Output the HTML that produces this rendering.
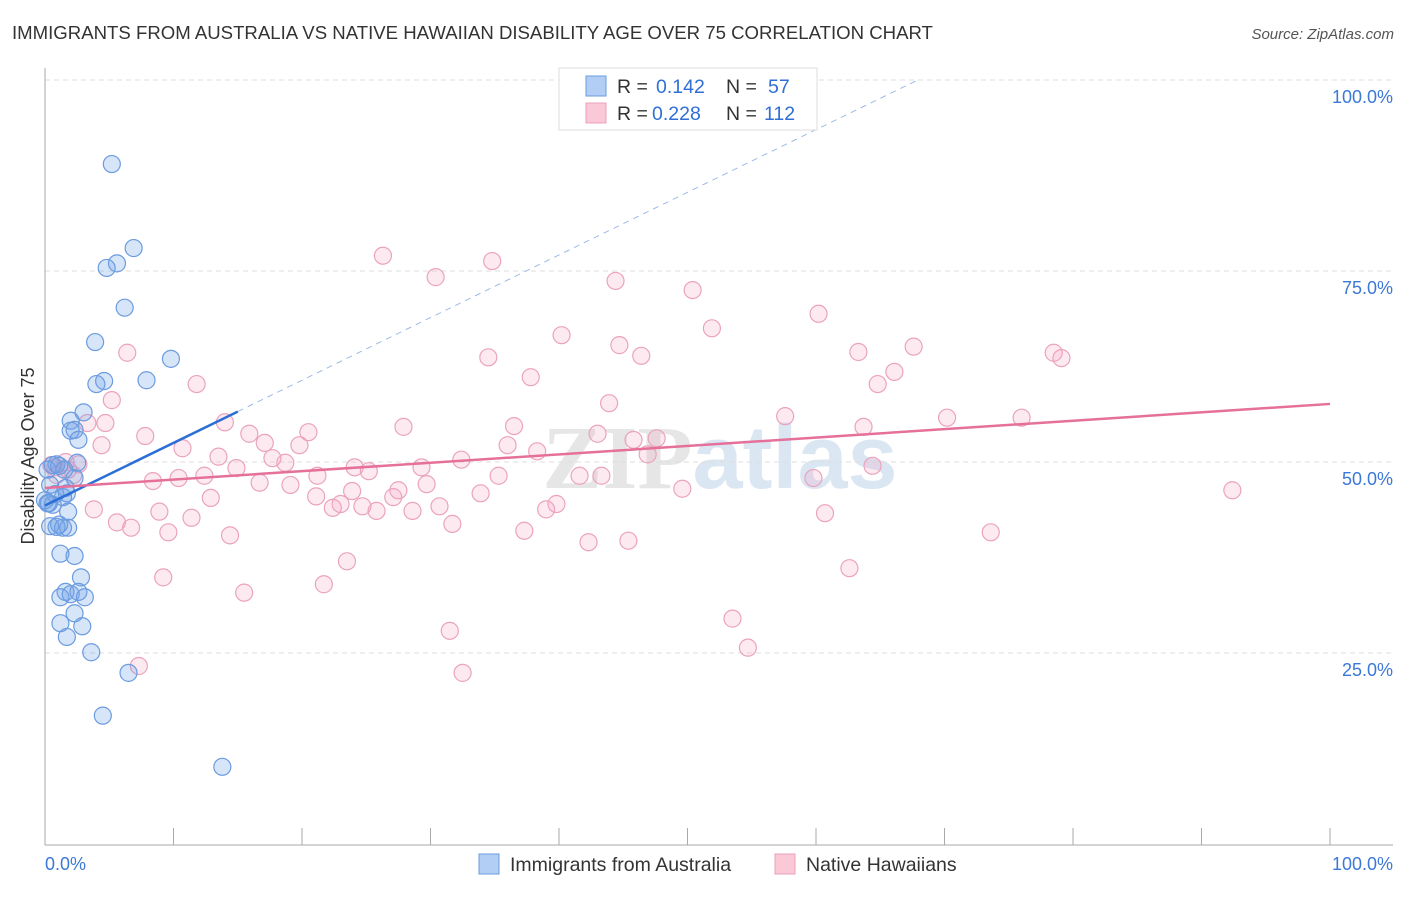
<!DOCTYPE html>
<html><head><meta charset="utf-8"><style>
body{margin:0;background:#fff;font-family:"Liberation Sans",sans-serif;}
svg text{font-family:"Liberation Sans",sans-serif;}
</style></head><body>
<svg id="chart" width="1406" height="892">
<text x="12" y="39" font-size="18.6" fill="#333">IMMIGRANTS FROM AUSTRALIA VS NATIVE HAWAIIAN DISABILITY AGE OVER 75 CORRELATION CHART</text>
<text x="1394" y="39" font-size="15" fill="#555" font-style="italic" text-anchor="end">Source: ZipAtlas.com</text>
<text x="720" y="488" font-size="90" fill="#e4e4e4" text-anchor="middle" font-weight="bold"><tspan fill="#e6e6e6" font-family="Liberation Serif">ZIP</tspan><tspan fill="#dbe6f3">atlas</tspan></text>
<g id="grid"></g>
<g id="axes"></g>
<g id="pts"></g>
<g id="lines"></g>
<text transform="translate(34,456) rotate(-90)" font-size="18" fill="#333" text-anchor="middle">Disability Age Over 75</text>
<g>
<rect x="559" y="68" width="258" height="62" fill="#fff" stroke="#ddd"/>
<rect x="586" y="76" width="20" height="20" fill="#b3cef5" stroke="#6a9de0"/>
<rect x="586" y="103" width="20" height="20" fill="#fbc8d8" stroke="#eba0bb"/>
<text x="617" y="93" font-size="19.5" fill="#333">R =</text>
<text x="656" y="93" font-size="19.5" fill="#2f6fd6">0.142</text>
<text x="726" y="93" font-size="19.5" fill="#333">N =</text>
<text x="768" y="93" font-size="19.5" fill="#2f6fd6">57</text>
<text x="617" y="120" font-size="19.5" fill="#333">R =</text>
<text x="652" y="120" font-size="19.5" fill="#2f6fd6">0.228</text>
<text x="726" y="120" font-size="19.5" fill="#333">N =</text>
<text x="764" y="120" font-size="19.5" fill="#2f6fd6">112</text>
</g>
<g>
<rect x="479" y="854" width="20" height="20" fill="#b3cef5" stroke="#6a9de0"/>
<text x="510" y="871" font-size="19.5" fill="#333">Immigrants from Australia</text>
<rect x="775" y="854" width="20" height="20" fill="#fbc8d8" stroke="#eba0bb"/>
<text x="806" y="871" font-size="19.5" fill="#333">Native Hawaiians</text>
</g>
</svg>
<script>
const blueX=[5.2,6.9,5.6,4.8,6.2,3.9,9.8,7.9,4.6,4.0,3.0,2.0,2.3,2.0,2.6,0.9,0.6,1.1,2.5,1.5,2.3,1.6,0.4,0.8,1.7,1.4,0.2,0.6,1.8,0.4,0.9,1.4,1.8,1.2,2.3,2.8,1.6,1.2,2.0,2.6,3.1,2.3,1.2,2.9,1.7,3.6,6.5,4.5,13.8,0.2,0,0.3,1.1];
const blueY=[89.0,78.0,76.0,75.4,70.2,65.7,63.5,60.7,60.6,60.2,56.5,55.4,54.2,54.1,52.9,49.7,49.6,49.5,49.9,49.0,47.9,46.6,47.0,45.8,45.9,45.4,44.6,44.4,43.5,41.6,41.5,41.4,41.4,38.0,37.7,34.9,33.0,32.3,32.7,33.0,32.3,30.2,28.9,28.5,27.1,25.1,22.4,16.8,10.1,49.0,45.0,44.6,41.8];
const pinkX=[26.3,34.8,30.4,44.4,50.4,60.2,51.9,40.2,6.4,34.5,44.7,46.4,63.3,67.6,78.5,79.1,66.1,64.8,37.8,11.8,5.2,14.0,4.7,43.9,57.6,70.2,76.0,3.3,27.9,36.5,7.8,15.9,20.5,63.7,43.0,10.7,19.8,17.1,36.0,38.3,45.8,47.6,46.9,13.5,17.7,24.1,18.7,14.9,25.2,29.3,32.4,64.4,1.6,4.4,2.2,2.6,12.4,10.4,21.2,8.4,16.7,19.1,35.3,41.6,43.3,59.8,29.7,23.9,27.5,21.1,12.9,27.1,33.9,49.6,92.4,3.8,23.0,22.4,24.7,25.8,28.6,30.7,39.8,39.0,8.9,11.4,5.6,6.7,31.7,37.3,14.4,9.6,73.6,42.3,45.4,60.7,23.5,9.2,62.6,21.7,15.5,53.5,31.5,54.7,7.3,32.5,0.5,0.9,0.8,1.8];
const pinkY=[77.0,76.3,74.2,73.7,72.5,69.4,67.5,66.6,64.3,63.7,65.3,63.9,64.4,65.1,64.3,63.6,61.8,60.2,61.1,60.2,58.1,55.2,55.1,57.7,56.0,55.8,55.8,55.1,54.6,54.7,53.4,53.7,53.9,54.6,53.7,51.8,52.2,52.5,52.2,51.4,52.9,53.1,51.0,50.7,50.5,49.3,49.9,49.2,48.8,49.3,50.3,49.5,50.0,52.2,48.3,49.7,48.2,47.9,48.2,47.5,47.3,47.0,48.2,48.2,48.2,47.9,47.1,46.2,46.3,45.5,45.3,45.4,45.9,46.5,46.3,43.8,44.5,44.0,44.2,43.6,43.6,44.2,44.5,43.8,43.5,42.7,42.1,41.4,41.9,41.0,40.4,40.8,40.8,39.5,39.7,43.3,37.0,34.9,36.1,34.0,32.9,29.5,27.9,25.7,23.3,22.4,49.6,48.3,49.3,49.0];
const blueTrend=[44.3,0.82]; // intercept, slope per %
const pinkTrend=[46.6,0.11];
const yTicks=[25,50,75,100];
const xTickLabels=["0.0%","100.0%"];
const NS="http://www.w3.org/2000/svg";
const sx=v=>45+v*12.85, sy=v=>844-v*7.64;
function mk(tag,attrs,parent){const e=document.createElementNS(NS,tag);for(const k in attrs)e.setAttribute(k,attrs[k]);parent.appendChild(e);return e;}
const grid=document.getElementById('grid'),axes=document.getElementById('axes'),pts=document.getElementById('pts'),lines=document.getElementById('lines');
yTicks.forEach(t=>{
 const l=mk('line',{x1:45,x2:1393,y1:sy(t),y2:sy(t),stroke:'#ddd','stroke-dasharray':'5,4'},grid);
 
 
 const tx=mk('text',{x:1393,y:sy(t)+23,'font-size':18,fill:'#3b78d8','text-anchor':'end'},grid);
 tx.textContent=t.toFixed(1)+'%';
 
 
});
mk('line',{x1:45,x2:45,y1:68,y2:845,stroke:'#aaa'},axes);
mk('line',{x1:45,x2:1393,y1:845,y2:845,stroke:'#aaa'},axes);
for(let i=0;i<=10;i++){mk('line',{x1:sx(i*10),x2:sx(i*10),y1:828,y2:845,stroke:'#aaa'},axes);}
const xl0=mk('text',{x:45,y:870,'font-size':18,fill:'#3b78d8'},axes);xl0.textContent=xTickLabels[0];


const xl1=mk('text',{x:1393,y:870,'font-size':18,fill:'#3b78d8','text-anchor':'end'},axes);xl1.textContent=xTickLabels[1];


pinkX.forEach((x,i)=>{
 const c=mk('circle',{cx:sx(x),cy:sy(pinkY[i]),r:8.5,fill:'rgba(245,160,190,0.22)',stroke:'#eba3bd','stroke-width':1.2},pts);
 
 
});
blueX.forEach((x,i)=>{
 const c=mk('circle',{cx:sx(x),cy:sy(blueY[i]),r:8.5,fill:'rgba(110,160,230,0.28)',stroke:'#6b9be0','stroke-width':1.2},pts);
 
 
});
const bx=(100-blueTrend[0])/blueTrend[1];
const d=mk('line',{x1:sx(15),y1:sy(blueTrend[0]+15*blueTrend[1]),x2:sx(bx),y2:sy(100),stroke:'#9dbbe6','stroke-dasharray':'6,5'},lines);


const bl=mk('line',{x1:sx(0),y1:sy(blueTrend[0]),x2:sx(15),y2:sy(blueTrend[0]+15*blueTrend[1]),stroke:'#2b6fd6','stroke-width':2.5},lines);


const pl=mk('line',{x1:sx(0),y1:sy(pinkTrend[0]),x2:sx(100),y2:sy(pinkTrend[0]+100*pinkTrend[1]),stroke:'#e5709a','stroke-width':2.5},lines);


</script>
</body></html>
